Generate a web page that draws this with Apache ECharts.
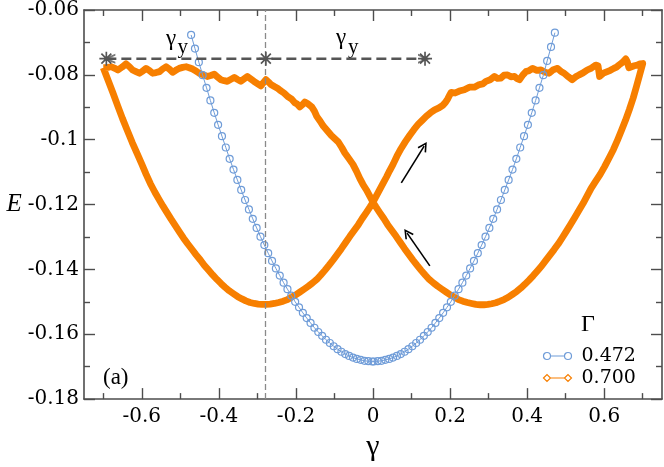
<!DOCTYPE html>
<html>
<head>
<meta charset="utf-8">
<script src="https://cdn.jsdelivr.net/npm/echarts@6/dist/echarts.min.js"></script>
<style>
html,body{margin:0;padding:0;background:#fff;}
#chart{width:664px;height:467px;}
</style>
</head>
<body>
<div id="chart"></div>
<script>
// ---------- data ----------
const xMajorTicks = [-0.6, -0.4, -0.2, 0, 0.2, 0.4, 0.6];
const xMinorTicks = [-0.7, -0.5, -0.3, -0.1, 0.1, 0.3, 0.5, 0.7];
const yMajorTicks = [-0.18, -0.16, -0.14, -0.12, -0.10, -0.08, -0.06];
const yMinorTicks = [-0.17, -0.15, -0.13, -0.11, -0.09, -0.07];

const seriesNames = ['0.472', '0.700'];

// Gamma = 0.472 (blue circles)
const blueGamma = [-0.472,-0.462,-0.452,-0.442,-0.432,-0.422,-0.412,-0.402,-0.392,-0.382,-0.372,-0.362,-0.352,-0.342,-0.332,-0.322,-0.312,-0.302,-0.292,-0.282,-0.272,-0.262,-0.252,-0.242,-0.232,-0.222,-0.212,-0.202,-0.192,-0.182,-0.172,-0.162,-0.152,-0.142,-0.132,-0.122,-0.112,-0.102,-0.092,-0.082,-0.072,-0.062,-0.052,-0.042,-0.032,-0.022,-0.012,-0.002,
  0.002,0.012,0.022,0.032,0.042,0.052,0.062,0.072,0.082,0.092,0.102,0.112,0.122,0.132,0.142,0.152,0.162,0.172,0.182,0.192,0.202,0.212,0.222,0.232,0.242,0.252,0.262,0.272,0.282,0.292,0.302,0.312,0.322,0.332,0.342,0.352,0.362,0.372,0.382,0.392,0.402,0.412,0.422,0.432,0.442,0.452,0.462,0.472];
const blueE = [-0.0677,-0.0719,-0.0761,-0.0801,-0.0840,-0.0879,-0.0917,-0.0954,-0.0989,-0.1024,-0.1059,-0.1092,-0.1124,-0.1155,-0.1186,-0.1215,-0.1244,-0.1272,-0.1299,-0.1325,-0.1350,-0.1374,-0.1397,-0.1419,-0.1441,-0.1461,-0.1481,-0.1500,-0.1517,-0.1534,-0.1550,-0.1565,-0.1580,-0.1593,-0.1605,-0.1617,-0.1627,-0.1637,-0.1646,-0.1654,-0.1661,-0.1667,-0.1672,-0.1676,-0.1679,-0.1682,-0.1683,-0.1684,
  -0.1684,-0.1683,-0.1682,-0.1679,-0.1676,-0.1672,-0.1667,-0.1661,-0.1654,-0.1646,-0.1637,-0.1627,-0.1617,-0.1605,-0.1593,-0.1580,-0.1565,-0.1550,-0.1534,-0.1517,-0.1500,-0.1481,-0.1461,-0.1441,-0.1419,-0.1397,-0.1374,-0.1350,-0.1325,-0.1299,-0.1272,-0.1244,-0.1215,-0.1186,-0.1155,-0.1124,-0.1092,-0.1059,-0.1024,-0.0989,-0.0954,-0.0917,-0.0879,-0.0840,-0.0801,-0.0757,-0.0714,-0.0670];

// Gamma = 0.700 (orange loop), branch A: forward loading
const branchAGamma = [-0.700,-0.688,-0.675,-0.662,-0.650,-0.637,-0.625,-0.612,-0.600,-0.589,-0.578,-0.566,-0.555,-0.545,-0.535,-0.524,-0.513,-0.502,-0.492,-0.481,-0.470,-0.459,-0.448,-0.438,-0.427,-0.416,-0.405,-0.394,-0.384,-0.373,-0.362,-0.351,-0.340,-0.330,-0.319,-0.308,-0.298,-0.288,-0.278,-0.267,-0.256,-0.245,-0.233,-0.222,-0.212,-0.201,-0.190,-0.179,-0.168,-0.157,-0.146,-0.136,-0.125,-0.114,-0.1035,-0.093,-0.082,-0.071,-0.060,-0.049,-0.038,-0.028,-0.017,-0.008,0.000,
  0.008,0.017,0.026,0.035,0.043,0.052,0.062,0.073,0.084,0.095,0.106,0.117,0.128,0.138,0.149,0.160,0.171,0.181,0.188,
  0.194,0.199,0.203,0.213,0.224,0.237,0.250,0.263,0.276,0.285,0.293,0.304,0.315,0.323,0.332,0.340,0.349,0.358,0.367,0.374,0.380,0.389,0.397,0.405,0.414,0.425,0.436,0.447,0.457,0.468,0.479,0.488,0.496,0.507,0.517,0.526,0.535,0.545,0.556,0.567,0.578,0.584,0.588,0.598,0.608,0.616,0.625,0.632,0.638,0.647,0.656,0.660,0.664,0.669,0.678,0.686,0.693,0.700];
const branchAE = [-0.0778,-0.0815,-0.0855,-0.0897,-0.0935,-0.0973,-0.1008,-0.1043,-0.1075,-0.1106,-0.1135,-0.1162,-0.1185,-0.1205,-0.1224,-0.1245,-0.1265,-0.1285,-0.1303,-0.1321,-0.1338,-0.1355,-0.1371,-0.1387,-0.1402,-0.1417,-0.1431,-0.1444,-0.1455,-0.1466,-0.1475,-0.1484,-0.1491,-0.1497,-0.1502,-0.1505,-0.1507,-0.1508,-0.1508,-0.1507,-0.1505,-0.1502,-0.1498,-0.1493,-0.1486,-0.1479,-0.1470,-0.1461,-0.1452,-0.1442,-0.1431,-0.1418,-0.1403,-0.1387,-0.1371,-0.1354,-0.1336,-0.1317,-0.1298,-0.1280,-0.1262,-0.1243,-0.1224,-0.1208,-0.1193,
  -0.1175,-0.1155,-0.1135,-0.1115,-0.1096,-0.1076,-0.1051,-0.1027,-0.1006,-0.0987,-0.0969,-0.0953,-0.0940,-0.0928,-0.0917,-0.0908,-0.0902,-0.0894,-0.0885,
  -0.0874,-0.0862,-0.0854,-0.0856,-0.0850,-0.0846,-0.0838,-0.0838,-0.0830,-0.0828,-0.0820,-0.0815,-0.0805,-0.0811,-0.0810,-0.0801,-0.0800,-0.0806,-0.0805,-0.0812,-0.0815,-0.0800,-0.0790,-0.0787,-0.0780,-0.0786,-0.0785,-0.0792,-0.0795,-0.0784,-0.0780,-0.0790,-0.0795,-0.0806,-0.0815,-0.0806,-0.0800,-0.0794,-0.0785,-0.0779,-0.0770,-0.0772,-0.0805,-0.0795,-0.0790,-0.0786,-0.0780,-0.0776,-0.0770,-0.0762,-0.0751,-0.0760,-0.0778,-0.0780,-0.0772,-0.0770,-0.0766,-0.0765];

// branch B: reverse loading
const branchBGamma = [0.692,0.684,0.675,0.665,0.655,0.645,0.635,0.624,0.612,0.601,0.590,0.578,0.566,0.555,0.545,0.535,0.524,0.513,0.502,0.492,0.481,0.470,0.459,0.448,0.438,0.427,0.416,0.405,0.394,0.384,0.373,0.362,0.351,0.340,0.330,0.319,0.308,0.298,0.288,0.278,0.267,0.256,0.245,0.233,0.222,0.212,0.201,0.190,0.179,0.168,0.157,0.146,0.136,0.125,0.114,0.1035,0.093,0.082,0.071,0.060,0.049,0.038,0.028,0.017,0.008,0.000,
  -0.008,-0.017,-0.026,-0.034,-0.043,-0.052,-0.062,-0.073,-0.081,-0.090,-0.099,-0.108,-0.118,-0.129,-0.137,-0.146,
  -0.152,-0.159,-0.168,-0.177,-0.184,-0.190,-0.197,-0.203,-0.212,-0.220,-0.231,-0.241,-0.248,-0.256,-0.265,-0.271,-0.278,-0.285,-0.291,-0.300,-0.309,-0.318,-0.326,-0.335,-0.343,-0.352,-0.360,-0.369,-0.378,-0.386,-0.395,-0.404,-0.412,-0.421,-0.430,-0.440,-0.451,-0.460,-0.468,-0.477,-0.485,-0.494,-0.503,-0.512,-0.520,-0.528,-0.537,-0.546,-0.554,-0.563,-0.572,-0.580,-0.589,-0.597,-0.606,-0.615,-0.624,-0.632,-0.641,-0.651,-0.662,-0.670,-0.679,-0.688,-0.697,-0.700];
const branchBE = [-0.0800,-0.0835,-0.0872,-0.0908,-0.0941,-0.0971,-0.1000,-0.1030,-0.1058,-0.1083,-0.1106,-0.1128,-0.1150,-0.1175,-0.1197,-0.1217,-0.1239,-0.1261,-0.1282,-0.1301,-0.1321,-0.1339,-0.1356,-0.1373,-0.1389,-0.1404,-0.1419,-0.1433,-0.1446,-0.1457,-0.1468,-0.1477,-0.1486,-0.1493,-0.1498,-0.1503,-0.1506,-0.1508,-0.1509,-0.1509,-0.1508,-0.1505,-0.1502,-0.1498,-0.1493,-0.1486,-0.1479,-0.1470,-0.1461,-0.1452,-0.1442,-0.1431,-0.1418,-0.1403,-0.1387,-0.1371,-0.1354,-0.1336,-0.1317,-0.1298,-0.1280,-0.1262,-0.1243,-0.1224,-0.1208,-0.1193,
  -0.1175,-0.1155,-0.1138,-0.1120,-0.1097,-0.1076,-0.1059,-0.1041,-0.1024,-0.1007,-0.0997,-0.0987,-0.0973,-0.0958,-0.0943,-0.0928,
  -0.0912,-0.0899,-0.0890,-0.0884,-0.0893,-0.0899,-0.0890,-0.0886,-0.0874,-0.0868,-0.0856,-0.0848,-0.0841,-0.0836,-0.0830,-0.0822,-0.0815,-0.0825,-0.0834,-0.0827,-0.0820,-0.0812,-0.0805,-0.0813,-0.0820,-0.0814,-0.0808,-0.0814,-0.0820,-0.0818,-0.0815,-0.0806,-0.0798,-0.0802,-0.0805,-0.0800,-0.0795,-0.0788,-0.0782,-0.0778,-0.0775,-0.0777,-0.0780,-0.0786,-0.0792,-0.0783,-0.0775,-0.0782,-0.0790,-0.0793,-0.0795,-0.0787,-0.0780,-0.0788,-0.0795,-0.0790,-0.0785,-0.0775,-0.0766,-0.0776,-0.0785,-0.0780,-0.0775,-0.0777,-0.0778,-0.0778];

// annotations
const yieldLevelE = -0.075;
const yieldMarksGamma = [-0.692, -0.278, 0.135];
const yieldLineGamma = -0.278;
const loadArrow = [[0.0735, -0.1133], [0.1327, -0.1020]];
const unloadArrow = [[0.1475, -0.1389], [0.0885, -0.1288]];

// ---------- build ----------
const zip = (xs, ys) => xs.map((x, i) => [x, ys[i]]);
const blueData = zip(blueGamma, blueE);
const orangeData = zip(branchAGamma, branchAE).concat(zip(branchBGamma, branchBE));
const yieldData = yieldMarksGamma.map(g => [g, yieldLevelE]);

const BLUE = '#6f9cd8';
const ORANGE = '#f77f00';
const AXIS = '#4d4d4d';
const FONT = "'Liberation Serif', 'Times New Roman', serif";
const NUMFONT = "'DejaVu Serif', serif";

const STAR = 'path://M0,4.4 L10,4.4 L10,5.6 L0,5.6 Z M5.6,0 L5.6,10 L4.4,10 L4.4,0 Z M1.888,1.040 L8.960,8.112 L8.112,8.960 L1.040,1.888 Z M8.112,1.040 L8.960,1.888 L1.888,8.960 L1.040,8.112 Z';
const CHEV_R = 'path://M0,0 L12,5 L0,10 L0,8 L7.2,5 L0,2 Z';
const CHEV_L = 'path://M12,0 L0,5 L12,10 L12,8 L4.8,5 L12,2 Z';
const CHEV_UP = 'path://M5,0 L10,9 L8.6,9.8 L5,3.2 L1.4,9.8 L0,9 Z';
const ICON_BLUE = 'path://M0,3.5 A3.5,3.5 0 1,1 7,3.5 A3.5,3.5 0 1,1 0,3.5 Z M7,3.5 L21,3.5 M21,3.5 A3.5,3.5 0 1,1 28,3.5 A3.5,3.5 0 1,1 21,3.5 Z';
const ICON_ORANGE = 'path://M0,3.5 L3.5,0 L7,3.5 L3.5,7 Z M7,3.5 L21,3.5 M21,3.5 L24.5,0 L28,3.5 L24.5,7 Z';

const fmt = v => String(Math.round(v * 100) / 100);

function xAxisDef(pos, ticks, len, withLabels, withLine) {
  return {
    type: 'value', position: pos, min: -0.75, max: 0.75,
    axisLine: { show: withLine, onZero: false, lineStyle: { color: AXIS, width: 1.6 } },
    axisTick: { show: true, inside: true, length: len, customValues: ticks, lineStyle: { color: AXIS, width: 1.4 } },
    axisLabel: withLabels ? { show: true, customValues: ticks, formatter: fmt, margin: 8, color: '#000', fontSize: 20, fontFamily: NUMFONT } : { show: false },
    splitLine: { show: false }
  };
}
function yAxisDef(pos, ticks, len, withLabels, withLine) {
  return {
    type: 'value', position: pos, min: -0.18, max: -0.06,
    axisLine: { show: withLine, onZero: false, lineStyle: { color: AXIS, width: 1.6 } },
    axisTick: { show: true, inside: true, length: len, customValues: ticks, lineStyle: { color: AXIS, width: 1.4 } },
    axisLabel: withLabels ? { show: true, customValues: ticks, formatter: fmt, margin: 5, color: '#000', fontSize: 20, fontFamily: NUMFONT } : { show: false },
    splitLine: { show: false }
  };
}

const xA = xAxisDef('bottom', xMajorTicks, 11, true, true);
xA.name = 'γ'; xA.nameLocation = 'middle'; xA.nameGap = 14;
xA.nameTextStyle = { fontSize: 30, fontFamily: FONT, color: '#000' };
const yA = yAxisDef('left', yMajorTicks, 11, true, true);
yA.name = 'E'; yA.nameLocation = 'middle'; yA.nameRotate = 0; yA.nameGap = 62;
yA.nameTextStyle = { fontSize: 25, fontFamily: FONT, fontStyle: 'italic', color: '#000' };

const option = {
  animation: false,
  backgroundColor: '#fff',
  textStyle: { fontFamily: FONT },
  grid: { left: 84, right: 2, top: 9, bottom: 52, containLabel: false },
  xAxis: [
    xA,
    xAxisDef('bottom', xMinorTicks, 6, false, false),
    xAxisDef('top', xMajorTicks, 11, false, true),
    xAxisDef('top', xMinorTicks, 6, false, false)
  ],
  yAxis: [
    yA,
    yAxisDef('left', yMinorTicks, 6, false, false),
    yAxisDef('right', yMajorTicks, 11, false, true),
    yAxisDef('right', yMinorTicks, 6, false, false)
  ],
  legend: {
    orient: 'vertical', left: 541, top: 345, padding: 0, itemGap: 0,
    itemWidth: 28, itemHeight: 7, selectedMode: false,
    textStyle: { fontSize: 19, fontFamily: NUMFONT, color: '#000', lineHeight: 22, padding: [0, 0, 0, 5] },
    data: [
      { name: seriesNames[0], icon: ICON_BLUE, itemStyle: { color: 'none', borderColor: BLUE, borderWidth: 1.2 } },
      { name: seriesNames[1], icon: ICON_ORANGE, itemStyle: { color: 'none', borderColor: ORANGE, borderWidth: 1.2 } }
    ]
  },
  graphic: [
    { type: 'text', left: 581, top: 313, style: { text: 'Γ', fontSize: 24, fontFamily: FONT, fill: '#000' } },
    { type: 'text', left: 103, top: 366, style: { text: '(a)', fontSize: 23, fontFamily: FONT, fill: '#000' } },
    { type: 'text', left: 166, top: 27, style: { text: 'γ', fontSize: 23, fontFamily: FONT, fill: '#000' } },
    { type: 'text', left: 177.5, top: 37, style: { text: 'y', fontSize: 21, fontFamily: FONT, fill: '#000' } },
    { type: 'text', left: 336, top: 26, style: { text: 'γ', fontSize: 23, fontFamily: FONT, fill: '#000' } },
    { type: 'text', left: 348, top: 37, style: { text: 'y', fontSize: 21, fontFamily: FONT, fill: '#000' } }
  ],
  series: [
    {
      name: seriesNames[1], type: 'line', data: orangeData,
      showSymbol: false, symbol: 'diamond', symbolSize: 7,
      lineStyle: { color: ORANGE, width: 6.8, join: 'round' },
      itemStyle: { color: ORANGE },
      z: 2
    },
    {
      name: seriesNames[0], type: 'line', data: blueData,
      symbol: 'circle', symbolSize: 7,
      lineStyle: { color: BLUE, width: 1 },
      itemStyle: { color: 'rgba(255,255,255,0)', borderColor: BLUE, borderWidth: 1.2 },
      z: 3
    },
    {
      name: 'yield', type: 'line', data: yieldData,
      symbol: STAR, symbolSize: 14,
      lineStyle: { color: '#555', width: 2.5, type: [10, 5] },
      itemStyle: { color: '#555' },
      z: 5,
      markLine: {
        silent: true, symbol: ['none', 'none'], label: { show: false },
        lineStyle: { color: '#8a8a8a', width: 1.3, type: [6, 3] },
        data: [{ xAxis: yieldLineGamma }]
      }
    },
    {
      name: 'yieldArrows', type: 'scatter',
      data: [
        { value: yieldData[0], symbol: CHEV_L, symbolSize: [12, 10], symbolOffset: [3, 0] },
        { value: yieldData[2], symbol: CHEV_R, symbolSize: [12, 10], symbolOffset: [-1, 0] }
      ],
      itemStyle: { color: '#555' }, z: 6
    },
    {
      name: 'arrows', type: 'line', data: [], z: 6,
      markLine: {
        silent: true, symbol: ['none', CHEV_UP], symbolSize: 10, label: { show: false },
        lineStyle: { color: '#000', width: 1.6, type: 'solid' },
        itemStyle: { color: '#000' },
        data: [
          [{ coord: loadArrow[0] }, { coord: loadArrow[1] }],
          [{ coord: unloadArrow[0] }, { coord: unloadArrow[1] }]
        ]
      }
    }
  ]
};

const chart = echarts.init(document.getElementById('chart'), null, { renderer: 'canvas' });
chart.setOption(option);
</script>
</body>
</html>
